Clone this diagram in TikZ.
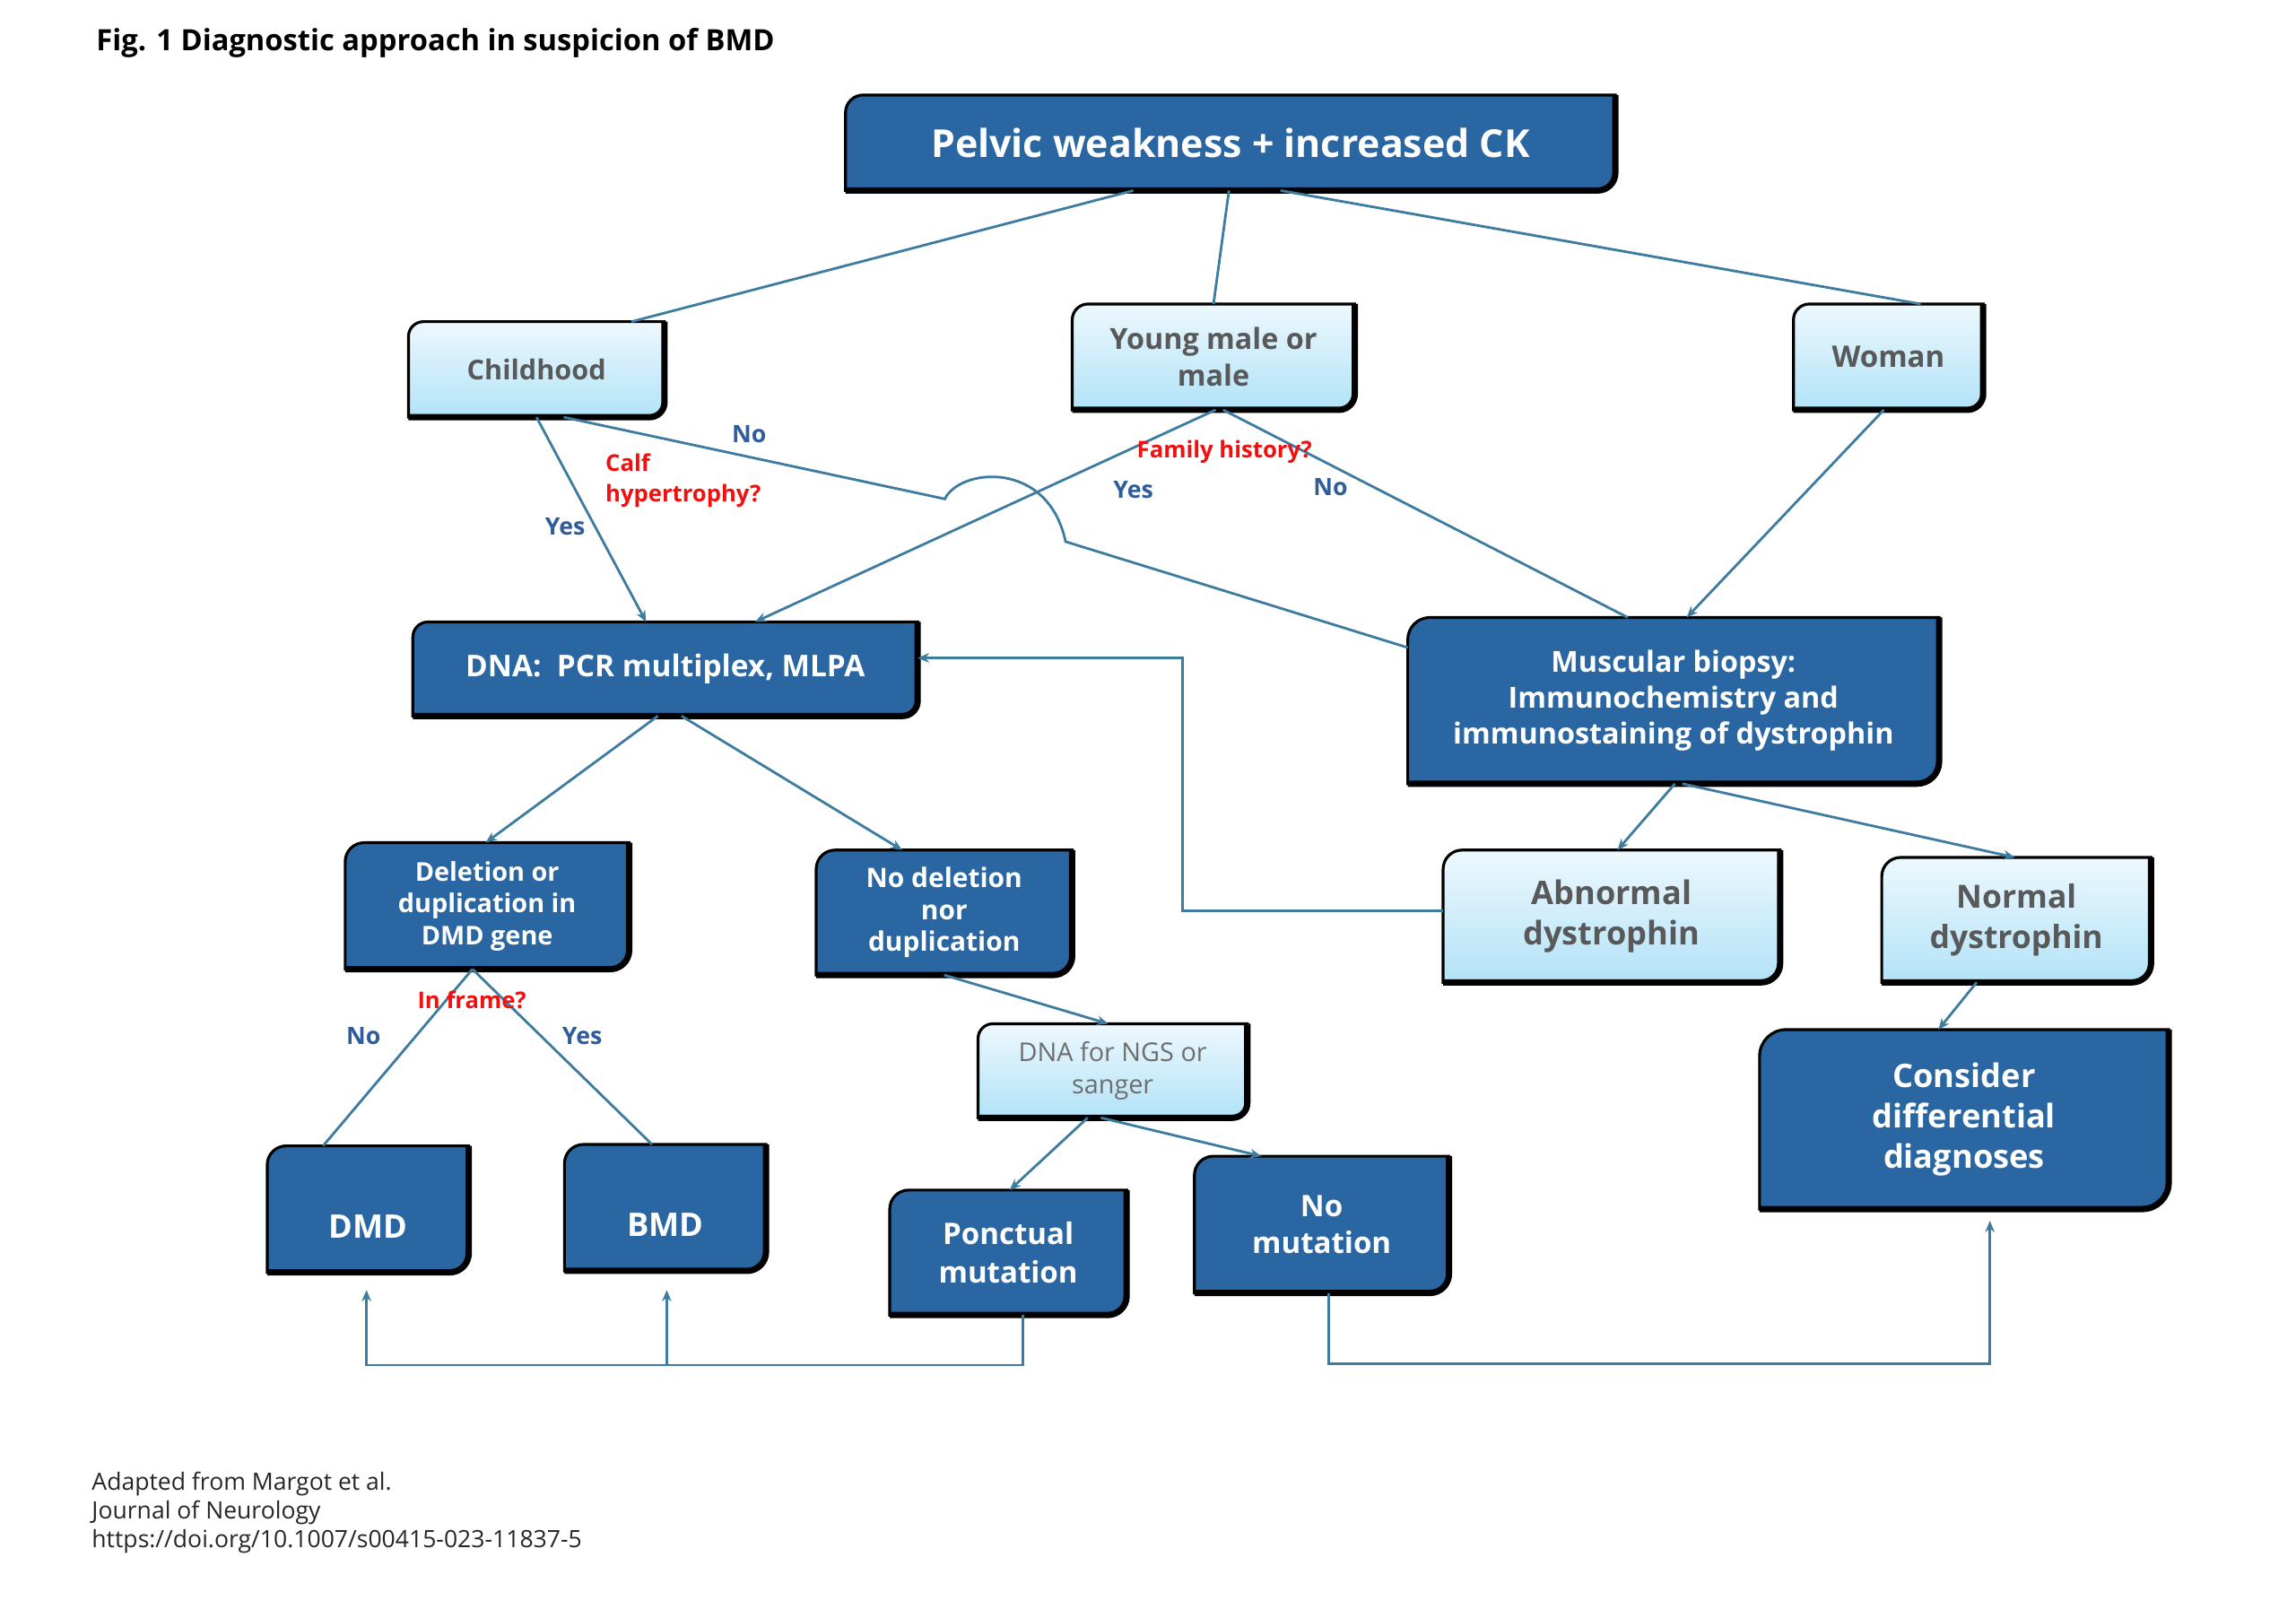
\documentclass[tikz,border=0pt]{standalone}
\usepackage{fontspec}
\setmainfont{Open Sans}
\usetikzlibrary{calc,arrows.meta,backgrounds}
\definecolor{dkblue}{HTML}{2A66A1}
\definecolor{lnblue}{HTML}{3E7BA0}
\definecolor{lbtop}{HTML}{EDF8FD}
\definecolor{lbbot}{HTML}{B2E3F8}
\definecolor{txgray}{HTML}{595959}
\definecolor{ngsgray}{HTML}{6E6E6E}
\definecolor{lblblue}{HTML}{2F5D9B}
\definecolor{qred}{HTML}{F01010}
\definecolor{foot}{HTML}{262626}
\begin{document}
\begin{tikzpicture}[x=0.0164103cm,y=-0.0164103cm,
  box/.style={inner sep=0pt, align=center},
  sz/.style 2 args={minimum width=#1, minimum height=#2},
  dark/.style={box, text=white},
  light/.style={box, text=txgray},
  dshape/.style n args={2}{insert path={(#1.south west) -- ([yshift=-#2]#1.north west) arc[start angle=180,end angle=90,radius=#2] -- (#1.north east) -- ([yshift=#2]#1.south east) arc[start angle=0,end angle=-90,radius=#2] -- cycle}},
  bshade/.style n args={2}{insert path={(#1.north east) -- ([yshift=#2]#1.south east) arc[start angle=0,end angle=-90,radius=#2] -- (#1.south west)}},
  darkfill/.style={fill=dkblue, draw=black, line width=0.9pt},
  lightfill/.style={top color=lbtop, bottom color=lbbot, draw=black, line width=0.9pt},
  shadestroke/.style={draw=black, line width=2pt},
  conn/.style={draw=lnblue, line width=0.8pt},
  arr/.style={conn, -{Stealth[length=3.6pt,width=3pt]}},
  ans/.style={text=lblblue, font=\bfseries\fontsize{7.6}{9}\selectfont, inner sep=0pt},
  quest/.style={text=qred, font=\bfseries\fontsize{7.3}{9.8}\selectfont, inner sep=0pt, align=left}
]
\useasboundingbox (0,0) rectangle (1560,1099.3);

% title
\node[anchor=west, inner sep=0pt, text=black, font=\bfseries\fontsize{9.3}{11}\selectfont] (title) at (65,29.5) {Fig. 1 Diagnostic approach in suspicion of BMD};

% boxes
\node[dark, sz={243.73pt}{29.88pt}, font=\bfseries\fontsize{12.2}{14}\selectfont] (pelvic) at (836,97) {Pelvic weakness + increased CK};
\node[light, sz={80.78pt}{29.88pt}, font=\bfseries\fontsize{8.7}{11.5}\selectfont] (child) at (364.5,251) {Childhood};
\node[light, sz={89.18pt}{33.15pt}, font=\bfseries\fontsize{9.2}{11.5}\selectfont] (young) at (824.5,242.5) {Young male or\\male};
\node[light, sz={59.76pt}{33.15pt}, font=\bfseries\fontsize{9.4}{11.5}\selectfont] (woman) at (1283,242.5) {Woman};
\node[dark, sz={159.68pt}{29.42pt}, font=\bfseries\fontsize{9.5}{11.5}\selectfont] (dna) at (452,454.5) {DNA:\ \ PCR multiplex, MLPA};
\node[dark, sz={168.09pt}{52.29pt}, font=\bfseries\fontsize{9.2}{11.5}\selectfont] (musc) at (1137,476) {Muscular biopsy:\\Immunochemistry and\\immunostaining of dystrophin};
\node[dark, sz={89.65pt}{39.69pt}, font=\bfseries\fontsize{8.2}{10.1}\selectfont] (del) at (331,615.5) {Deletion or\\duplication in\\DMD gene};
\node[dark, sz={80.78pt}{39.22pt}, font=\bfseries\fontsize{8.5}{10.1}\selectfont] (nodel) at (641.5,620) {No deletion\\nor\\duplication};
\node[light, sz={106.46pt}{41.55pt}, font=\bfseries\fontsize{10.3}{12.7}\selectfont] (abn) at (1095,622.5) {Abnormal\\dystrophin};
\node[light, sz={84.98pt}{39.22pt}, font=\bfseries\fontsize{10.1}{12.7}\selectfont] (norm) at (1370,625) {Normal\\dystrophin};
\node[box, text=ngsgray, sz={84.98pt}{29.42pt}, font=\fontsize{8.2}{10.3}\selectfont] (ngs) at (756,727.5) {DNA for NGS or\\sanger};
\node[dark, sz={129.33pt}{56.5pt}, font=\bfseries\fontsize{10.3}{12.7}\selectfont] (consider) at (1334.5,760.5) {Consider\\differential\\diagnoses};
\node[dark, sz={63.5pt}{39.69pt}, text height=18.4pt, text depth=0pt, font=\bfseries\fontsize{10.3}{13}\selectfont] (dmd) at (250,821.5) {DMD};
\node[dark, sz={63.5pt}{39.69pt}, text height=18.4pt, text depth=0pt, font=\bfseries\fontsize{10.3}{13}\selectfont] (bmd) at (452,820.5) {BMD};
\node[dark, sz={74.71pt}{39.22pt}, font=\bfseries\fontsize{9.4}{12.1}\selectfont] (ponc) at (685,851) {Ponctual\\mutation};
\node[dark, sz={80.31pt}{42.96pt}, font=\bfseries\fontsize{9.4}{11.7}\selectfont] (nomut) at (898,832) {No\\mutation};

% box shapes
\begin{scope}[on background layer]
\foreach \n/\r in {pelvic/5.6pt, dna/4.8pt, musc/7pt, del/6pt, nodel/6pt, consider/8.4pt, dmd/6pt, bmd/6pt, ponc/6pt, nomut/6pt}{
  \path[darkfill, dshape={\n}{\r}];
  \path[shadestroke, bshade={\n}{\r}];
}
\foreach \n/\r in {child/4.7pt, young/5pt, woman/5pt, abn/6pt, norm/6pt, ngs/4.7pt}{
  \path[lightfill, dshape={\n}{\r}];
  \path[shadestroke, bshade={\n}{\r}];
}
\end{scope}

% hop waypoints
\coordinate (hopA) at (642,339);
\coordinate (hopB) at (724,368);

% connectors
\draw[conn] ($(pelvic.south)+(-66,0)$) -- ($(child.north)+(64.5,0)$);
\draw[conn] ($(pelvic.south)+(-1,0)$) -- (young.north);
\draw[conn] ($(pelvic.south)+(34,0)$) -- ($(woman.north)+(22,0)$);
\draw[arr] (child.south) -- ($(dna.north)+(-13,0)$);
\draw[conn] ($(child.south)+(18.5,0)$) -- (hopA) .. controls (652,318) and (712,312) .. (hopB) -- ($(musc.west)+(0,-36)$);
\draw[arr] ($(young.south)+(1.5,0)$) -- ($(dna.north)+(61,0)$);
\draw[conn] ($(young.south)+(6.5,0)$) -- ($(musc.north)+(-31,0)$);
\draw[arr] ($(woman.south)+(-3,0)$) -- ($(musc.north)+(9,0)$);
\draw[arr] ($(dna.south)+(-5,0)$) -- ($(del.north)+(-1,0)$);
\draw[arr] ($(dna.south)+(11,0)$) -- ($(nodel.north)+(-28.5,0)$);
\draw[arr] ($(musc.south)+(1,0)$) -- ($(abn.north)+(4,0)$);
\draw[arr] ($(musc.south)+(6,0)$) -- ($(norm.north)+(-1,0)$);
\draw[arr] ($(abn.west)+(0,-3.5)$) -| ($(dna.east)+(180,-7.5)$) -- ($(dna.east)+(0,-7.5)$);
\draw[arr] (nodel.south) -- ($(ngs.north)+(-3,0)$);
\draw[arr] ($(ngs.south)+(-17,0)$) -- ($(ponc.north)+(1,0)$);
\draw[arr] ($(ngs.south)+(-8,0)$) -- ($(nomut.north)+(-41,0)$);
\draw[conn] ($(del.south)+(-10,0)$) -- ($(dmd.north)+(-30.5,0)$);
\draw[conn] ($(del.south)+(-10,0)$) -- ($(bmd.north)+(-9,0)$);
\draw[arr] ($(norm.south)+(-27,0)$) -- ($(consider.north)+(-17.5,0)$);
\draw[arr] ($(ponc.south)+(10,0)$) |- ($(dmd.south)+(-1,63)$) -- ($(dmd.south)+(-1,12)$);
\draw[arr] ($(bmd.south)+(1,64)$) -- ($(bmd.south)+(1,13)$);
\draw[arr] ($(nomut.south)+(5,0)$) |- ($(consider.south)+(17.5,105)$) -- ($(consider.south)+(17.5,8)$);

% labels
\node[quest, anchor=west] (calf) at (411,326.5) {Calf\\hypertrophy?};
\node[ans] (noC) at (509,295) {No};
\node[ans] (yesC) at (384,358) {Yes};
\node[quest] (fam) at (832,307) {Family history?};
\node[ans] (yesF) at (770,333) {Yes};
\node[ans] (noF) at (904,331) {No};
\node[quest] (frame) at (320.6,679.5) {In frame?};
\node[ans] (noI) at (247,704) {No};
\node[ans] (yesI) at (395.6,704) {Yes};

% footer
\node[anchor=west, inner sep=0pt, align=left, text=foot, font=\fontsize{7.55}{9.1}\selectfont] (footer) at (62,1028) {Adapted from Margot et al.\\Journal of Neurology\\https://doi.org/10.1007/s00415-023-11837-5};
\end{tikzpicture}
\end{document}
